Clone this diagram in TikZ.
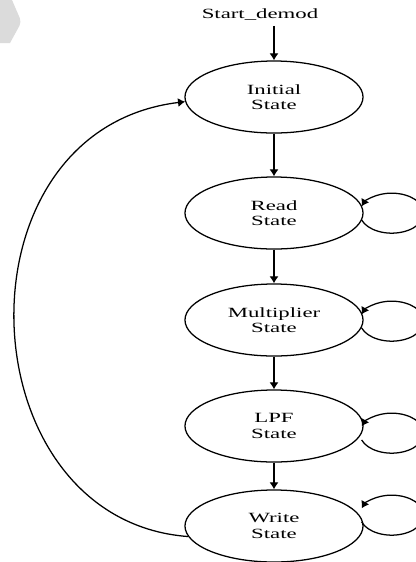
\documentclass[tikz,border=0pt]{standalone}
\usepackage{fontspec}
\setmainfont[FakeStretch=1.62]{Liberation Serif}
\usetikzlibrary{arrows.meta}
\usetikzlibrary{shapes.geometric}
\tikzset{
  st/.style={draw,ellipse,line width=0.9pt,minimum width=4.45cm,minimum height=1.8cm,
    inner sep=0pt,align=center,font=\fontsize{10}{11}\selectfont},
  lbl/.style={font=\fontsize{10}{11}\selectfont},
  arr/.style={-{Latex[length=5pt,width=6.5pt]},line width=0.9pt}
}

\begin{document}
\begin{tikzpicture}[x=0.025cm,y=0.025cm]
    \useasboundingbox (0,0) rectangle (416,-562);
    \fill[black!14] (0,0) -- (12,0) [rounded corners=3pt] -- (21.5,-22) [sharp corners] -- (10,-43) -- (0,-43) -- cycle;

    \node[lbl] (start) at (260,-15) {Start\_demod};
    \node[st] (init) at (274,-97) {Initial\\State};
    \node[st] (read) at (274,-213) {Read\\State};
    \node[st] (mult) at (274,-320) {Multiplier\\State};
    \node[st] (lpf) at (274,-426) {LPF\\State};
    \node[st] (write) at (274,-526) {Write\\State};

    \draw[arr] (init.north |- start.south) -- (init.north);
    \foreach \a/\b in {init/read,read/mult,mult/lpf,lpf/write}
      \draw[arr] (\a) -- (\b);

    % self loops on the right
    \foreach \n/\dy in {read/0,mult/1,lpf/7,write/-11}
      \draw[arr] ([shift={(-2,-7-\dy)}]\n.east) arc[start angle=200,end angle=520,x radius=32,y radius=20];

    % back to the initial state
    \draw[arr] (write.187) .. controls (-35,-520) and (-50,-130) .. (init.183);
\end{tikzpicture}
\end{document}
